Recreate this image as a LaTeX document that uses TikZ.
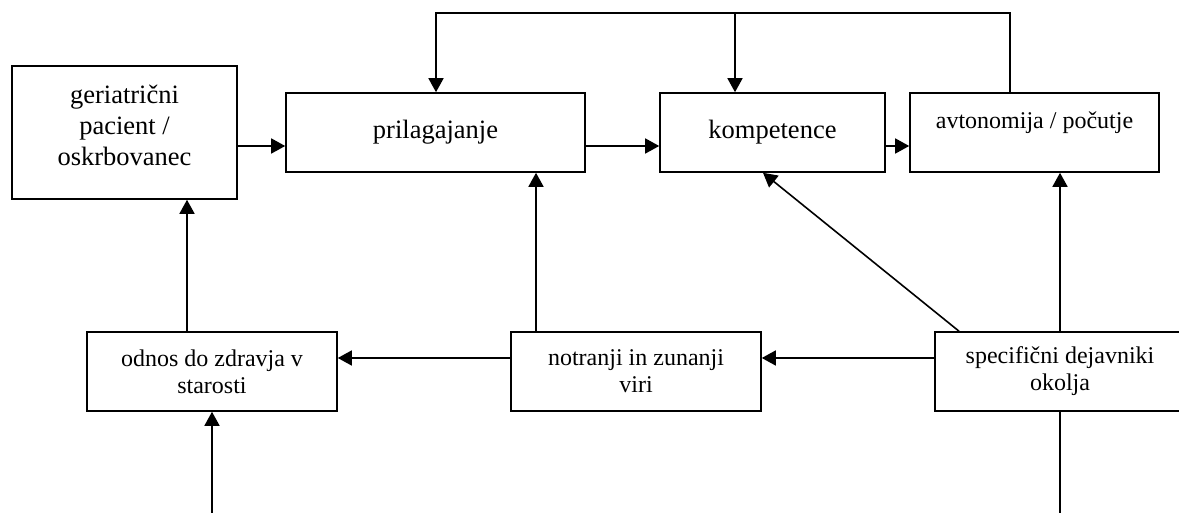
\documentclass[tikz,border=0pt]{standalone}
\usepackage{fontspec}
\setmainfont{Liberation Serif}
\usepackage{tikz}
\usetikzlibrary{arrows.meta,positioning}
\definecolor{ink}{RGB}{0,0,0}
\tikzset{
  block/.style={draw=ink,line width=0.8pt,align=center,inner sep=0pt,text=ink,
    font=\fontsize{13.25}{15.5}\selectfont},
  smallblock/.style={block,font=\fontsize{12}{13.5}\selectfont},
  link/.style={ink,line width=0.8pt,-{Triangle[length=7pt,width=7.5pt]}},
  plain/.style={ink,line width=0.8pt}
}

\begin{document}
\begin{tikzpicture}[x=0.5pt,y=-0.5pt]
  \clip (0,0) rectangle (1179,513);
  % upper row
  \node[block,minimum width=112.5pt,minimum height=66.5pt] (ger) at (124.5,132.5)
    {geriatrični\\pacient /\\oskrbovanec\rule[-7.5pt]{0pt}{7.5pt}};
  \node[block,minimum width=149.5pt,minimum height=39.5pt] (pri) at (435.5,132.5)
    {prilagajanje};
  \node[block,minimum width=112.5pt,minimum height=39.5pt] (kom) at (772.5,132.5)
    {kompetence};
  \node[smallblock,minimum width=124.5pt,minimum height=39.5pt] (avt) at (1034.5,132.5)
    {avtonomija / počutje\rule[-12.5pt]{0pt}{12.5pt}};
  % lower row
  \node[smallblock,minimum width=125pt,minimum height=39.5pt] (odn) at (212,371.5)
    {odnos do zdravja v\\starosti};
  \node[smallblock,minimum width=125pt,minimum height=39.5pt] (not) at (636,371.5)
    {notranji in zunanji\\viri};
  \node[smallblock,minimum width=125pt,minimum height=39.5pt] (spe) at (1060,371.5)
    {specifični dejavniki\\okolja};

  \coordinate (rowA) at (0,146);
  \coordinate (rowB) at (0,358);
  \coordinate (loopL) at (436,13);
  \coordinate (loopM) at (735,13);
  \coordinate (loopR) at (1010,13);
  \coordinate (colA) at (187,0);
  \coordinate (colB) at (536,0);
  \coordinate (colC) at (763,0);
  \coordinate (colD) at (959,0);
  \coordinate (inOdn) at (212,520);
  \coordinate (outSpe) at (1060,520);

  \draw[link] (ger.east |- rowA) -- (pri.west |- rowA);
  \draw[link] (pri.east |- rowA) -- (kom.west |- rowA);
  \draw[link] (kom.east |- rowA) -- (avt.west |- rowA);
  \draw[link] (avt.north -| loopR) -- (loopR) -- (loopL) -- (pri.north -| loopL);
  \draw[link] (loopM) -- (kom.north -| loopM);

  \draw[link] (odn.north -| colA) -- (ger.south -| colA);
  \draw[link] (not.north -| colB) -- (pri.south -| colB);
  \draw[link] (spe.north -| colD) -- (kom.south -| colC);
  \draw[link] (spe.north) -- (avt.south -| spe.north);
  \draw[link] (spe.west |- rowB) -- (not.east |- rowB);
  \draw[link] (not.west |- rowB) -- (odn.east |- rowB);

  \draw[link] (inOdn) -- (odn.south);
  \draw[plain] (spe.south) -- (outSpe);
\end{tikzpicture}
\end{document}
